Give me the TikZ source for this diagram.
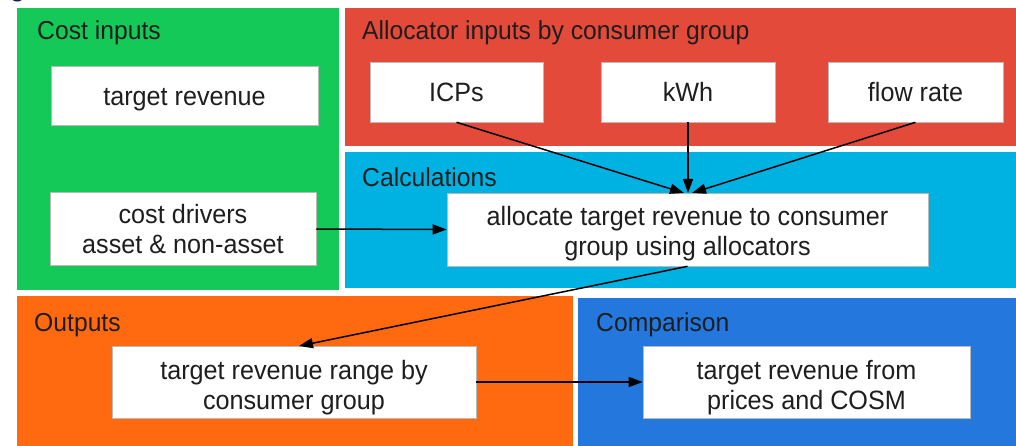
\documentclass[tikz,border=0pt]{standalone}
\usepackage{fontspec}
\setmainfont[FakeStretch=0.95]{Liberation Sans}
\usetikzlibrary{arrows.meta}
\definecolor{cgreen}{RGB}{20,201,88}
\definecolor{cred}{RGB}{228,74,58}
\definecolor{ccyan}{RGB}{0,178,226}
\definecolor{corange}{RGB}{255,106,16}
\definecolor{cblue}{RGB}{36,119,221}
\definecolor{ctext}{RGB}{30,30,30}
\definecolor{cnavy}{RGB}{20,35,70}
\newcommand{\lowertxt}[2]{\raisebox{-#1}[\height][\depth]{\begin{tabular}{@{}c@{}}#2\end{tabular}}}
\begin{document}
\begin{tikzpicture}[x=1pt,y=-1pt,
  ptitle/.style={anchor=base west,inner sep=0pt,text=ctext,font=\fontsize{26}{30}\selectfont},
  wbox/.style={draw=gray!55,line width=0.6pt,fill=white,text=ctext,align=center,
    font=\fontsize{26.5}{30}\selectfont,inner sep=0pt},
  conn/.style={draw=black,line width=1.5pt,-{Triangle[length=14pt,width=10pt]}}]
\useasboundingbox (0,0) rectangle (1016,446);
\fill[white] (0,0) rectangle (1016,446);
\clip (0,0) rectangle (1016,446);
% cut-off heading fragment
\node[anchor=base west,inner sep=0pt,text=cnavy,font=\bfseries\fontsize{26}{30}\selectfont] (hd) at (10,-3) {g};
% panels
\fill[cgreen] (17,8) rectangle (339,290);
\fill[cred] (345,8) rectangle (1016,146);
\fill[ccyan] (345,152) rectangle (1016,288);
\fill[corange] (17,296) rectangle (573,446);
\fill[cblue] (578,298) rectangle (1016,446);
% panel titles
\node[ptitle] (t1) at (37,40) {Cost inputs};
\node[ptitle] (t2) at (362,40) {Allocator inputs by consumer group};
\node[ptitle] (t3) at (362,187) {Calculations};
\node[ptitle] (t4) at (34,331) {Outputs};
\node[ptitle] (t5) at (596,331) {Comparison};
% boxes
\node[wbox,minimum width=267pt,minimum height=59pt] (tr) at (184.5,95.5) {\lowertxt{4pt}{target revenue}};
\node[wbox,minimum width=266pt,minimum height=73pt] (cd) at (183,229) {cost drivers\\asset \& non-asset};
\node[wbox,minimum width=173pt,minimum height=60pt] (icp) at (456.5,92) {\lowertxt{4pt}{ICPs}};
\node[wbox,minimum width=174pt,minimum height=60pt] (kwh) at (688,92) {\lowertxt{4pt}{kWh}};
\node[wbox,minimum width=175pt,minimum height=60pt] (flow) at (915.5,92) {\lowertxt{4pt}{flow rate}};
\node[wbox,minimum width=481pt,minimum height=73pt] (calc) at (687.5,229.5) {\lowertxt{5pt}{allocate target revenue to consumer\\group using allocators}};
\node[wbox,minimum width=364pt,minimum height=72pt] (out) at (294,382) {\lowertxt{6pt}{target revenue range by\\consumer group}};
\node[wbox,minimum width=327pt,minimum height=72pt] (cmp) at (806.5,382) {\lowertxt{6pt}{target revenue from\\prices and COSM}};
% connectors
\coordinate (tipA) at (684,193);
\coordinate (tipB) at (688,193);
\coordinate (tipC) at (692,193);
\coordinate (tipO) at (299,346);
\draw[conn] (icp.south) -- (tipA);
\draw[conn] (kwh.south) -- (tipB);
\draw[conn] (flow.south) -- (tipC);
\draw[conn] (cd.east) -- (calc.west);
\draw[conn] (calc.south) -- (tipO);
\draw[conn] (out.east) -- (cmp.west);
\end{tikzpicture}
\end{document}
